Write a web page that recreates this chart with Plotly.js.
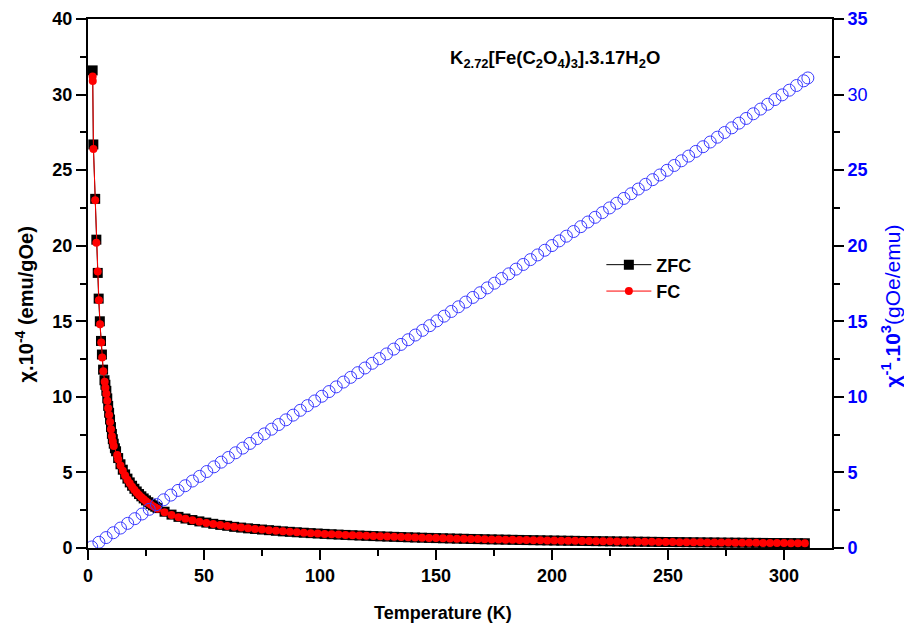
<!DOCTYPE html>
<html><head><meta charset="utf-8">
<script src="https://cdn.plot.ly/plotly-3.0.1.min.js"></script>
<style>html,body{margin:0;padding:0;background:#fff}#chart{width:904px;height:625px}</style>
</head><body><div id="chart"></div>
<script>
// Low-temperature ZFC data (T in K, chi x 1e-4 emu/gOe)
const tempZFCLow = [2.0, 2.3, 3.1, 3.6, 4.2, 4.6, 5.1, 5.6, 6.0, 6.5, 7.1, 7.5, 7.9, 8.3, 8.7, 9.1, 9.5, 9.9, 10.3, 10.7, 11.1, 11.6, 12.1,
  13, 14, 15, 16, 17, 18, 19, 20, 21, 22, 23, 24, 25, 26, 27, 28, 29, 30, 33, 36, 39, 42, 45, 48, 51, 54, 57, 60];
const chiZFCLow = [31.6, 26.7, 23.1, 20.4, 18.2, 16.5, 15.0, 13.7, 12.8, 11.8, 11.1, 10.8, 10.4, 9.9, 9.4, 8.95, 8.5, 8.0, 7.55, 7.2, 6.9, 6.6, 6.4,
  5.95, 5.54, 5.18, 4.87, 4.59, 4.34, 4.12, 3.92, 3.74, 3.57, 3.42, 3.28, 3.15, 3.03, 2.92, 2.82, 2.73, 2.64, 2.40, 2.21, 2.06, 1.95, 1.85, 1.76, 1.68, 1.60, 1.53, 1.47];
// Low-temperature FC data
const tempFCLow = [2.0, 2.05, 2.35, 3.1, 3.6, 4.2, 4.7, 5.2, 5.7, 6.1, 6.6, 7.2, 7.5, 7.9, 8.3, 8.7, 9.1, 9.5, 9.9, 10.3, 10.7, 11.1, 12.6,
  13, 14, 15, 16, 17, 18, 19, 20, 21, 22, 23, 24, 25, 26, 27, 28, 29, 30, 33, 36, 39, 42, 45, 48, 51, 54, 57, 60];
const chiFCLow = [31.2, 30.9, 26.4, 23.0, 20.2, 18.3, 16.4, 14.8, 13.6, 12.6, 11.7, 11.0, 10.6, 10.2, 9.75, 9.25, 8.8, 8.34, 7.85, 7.4, 7.05, 6.75, 6.15,
  5.87, 5.46, 5.11, 4.80, 4.52, 4.28, 4.06, 3.86, 3.68, 3.51, 3.36, 3.23, 3.10, 2.98, 2.87, 2.77, 2.68, 2.59, 2.36, 2.18, 2.03, 1.93, 1.83, 1.74, 1.66, 1.59, 1.52, 1.46];
// High-temperature region where ZFC and FC coincide
const tempHigh = [63, 66, 69, 72, 75, 78, 81, 84, 87, 90, 93, 96, 99, 102, 105, 108, 111, 114, 117, 120, 123, 126, 129, 132, 135, 138, 141, 144, 147, 150,
  153, 156, 159, 162, 165, 168, 171, 174, 177, 180, 183, 186, 189, 192, 195, 198, 201, 204, 207, 210, 213, 216, 219, 222, 225, 228, 231, 234, 237, 240,
  243, 246, 249, 252, 255, 258, 261, 264, 267, 270, 273, 276, 279, 282, 285, 288, 291, 294, 297, 300, 303, 306, 309];
const chiHigh = [1.40, 1.35, 1.30, 1.26, 1.22, 1.18, 1.14, 1.10, 1.07, 1.04, 1.01, 0.984, 0.958, 0.933, 0.909, 0.887, 0.865, 0.845, 0.825, 0.806, 0.788, 0.771, 0.754, 0.739, 0.723, 0.709, 0.695, 0.681, 0.668, 0.656,
  0.643, 0.632, 0.620, 0.610, 0.599, 0.589, 0.579, 0.569, 0.560, 0.551, 0.542, 0.533, 0.525, 0.517, 0.509, 0.501, 0.494, 0.487, 0.480, 0.473, 0.466, 0.460, 0.453, 0.447, 0.441, 0.435, 0.429, 0.424, 0.418, 0.413,
  0.408, 0.402, 0.397, 0.392, 0.388, 0.383, 0.378, 0.374, 0.369, 0.365, 0.360, 0.356, 0.352, 0.348, 0.344, 0.340, 0.336, 0.333, 0.329, 0.325, 0.322, 0.318, 0.315];
// Inverse susceptibility (x 1e3 gOe/emu), right axis
const tempInv = [1.6, 4.7, 7.8, 10.9, 14.0, 17.1, 20.2, 23.3, 26.4, 29.5, 32.6, 35.7, 38.8, 41.9, 45.0, 48.1, 51.2, 54.3, 57.4, 60.5, 63.6, 66.7, 69.8, 72.9, 76.0,
  79.1, 82.2, 85.3, 88.4, 91.5, 94.6, 97.7, 100.8, 103.9, 107.0, 110.1, 113.2, 116.3, 119.4, 122.5, 125.6, 128.7, 131.8, 134.9, 138.0, 141.1, 144.2, 147.3, 150.4,
  153.5, 156.6, 159.7, 162.8, 165.9, 169.0, 172.1, 175.2, 178.3, 181.4, 184.5, 187.6, 190.7, 193.8, 196.9, 200.0, 203.1, 206.2, 209.3, 212.4, 215.5, 218.6, 221.7,
  224.8, 227.9, 231.0, 234.1, 237.2, 240.3, 243.4, 246.5, 249.6, 252.7, 255.8, 258.9, 262.0, 265.1, 268.2, 271.3, 274.4, 277.5, 280.6, 283.7, 286.8, 289.9, 293.0,
  296.1, 299.2, 302.3, 305.4, 308.5, 310.3];
const chiInv = [0.07, 0.38, 0.69, 1.01, 1.32, 1.63, 1.94, 2.25, 2.56, 2.87, 3.19, 3.50, 3.81, 4.12, 4.43, 4.74, 5.06, 5.37, 5.68, 5.99, 6.30, 6.61, 6.92, 7.24, 7.55,
  7.86, 8.17, 8.48, 8.79, 9.11, 9.42, 9.73, 10.04, 10.35, 10.66, 10.98, 11.29, 11.60, 11.91, 12.22, 12.53, 12.84, 13.16, 13.47, 13.78, 14.09, 14.40, 14.71, 15.03,
  15.34, 15.65, 15.96, 16.27, 16.58, 16.89, 17.21, 17.52, 17.83, 18.14, 18.45, 18.76, 19.08, 19.39, 19.70, 20.01, 20.32, 20.63, 20.94, 21.26, 21.57, 21.88, 22.19,
  22.50, 22.81, 23.13, 23.44, 23.75, 24.06, 24.37, 24.68, 24.99, 25.31, 25.62, 25.93, 26.24, 26.55, 26.86, 27.18, 27.49, 27.80, 28.11, 28.42, 28.73, 29.04, 29.36,
  29.67, 29.98, 30.29, 30.60, 30.91, 31.10];

// Tick labels
const xTicks = [0, 50, 100, 150, 200, 250, 300];
const xMinor = [25, 75, 125, 175, 225, 275];
const yTicks = [0, 5, 10, 15, 20, 25, 30, 35];
const yTickText = ['0', '5', '10', '15', '20', '25', '30', '40'];
const yMinor = [2.5, 7.5, 12.5, 17.5, 22.5, 27.5, 32.5];
const y2TickText = ['<b>0</b>', '<b>5</b>', '<b>10</b>', '<b>15</b>', '<b>20</b>', '<b>25</b>', '30', '<b>35</b>'];

const F = '"Liberation Sans", Arial, sans-serif';
const BLUE = '#0000ff';

const traces = [
  { x: tempZFCLow.concat(tempHigh), y: chiZFCLow.concat(chiHigh), name: 'ZFC', type: 'scatter', mode: 'lines+markers',
    line: { color: '#000', width: 1 }, marker: { symbol: 'square', size: 10, color: '#000' } },
  { x: tempFCLow.concat(tempHigh), y: chiFCLow.concat(chiHigh), name: 'FC', type: 'scatter', mode: 'lines+markers',
    line: { color: '#ff0000', width: 1 }, marker: { symbol: 'circle', size: 8, color: '#ff0000' } },
  { x: tempInv, y: chiInv, name: 'inv', yaxis: 'y2', type: 'scatter', mode: 'markers', showlegend: false,
    marker: { symbol: 'circle-open', size: 12, color: '#3b3bff', line: { width: 1, color: '#3b3bff' } } }
];

const axisCommon = {
  ticks: 'outside', ticklen: 10, tickwidth: 2, tickcolor: '#000',
  showline: true, linewidth: 2, linecolor: '#000', showgrid: false, zeroline: false
};

const layout = {
  width: 904, height: 625,
  margin: { l: 88, r: 72, t: 19, b: 77, pad: 0 },
  paper_bgcolor: '#fff', plot_bgcolor: '#fff',
  font: { family: F, size: 18, color: '#000' },
  showlegend: true,
  legend: { x: 0.69, y: 0.57, xanchor: 'left', yanchor: 'top', bgcolor: 'rgba(0,0,0,0)',
    font: { family: F, size: 18, weight: 'bold', color: '#000' }, itemwidth: 45 },
  xaxis: Object.assign({}, axisCommon, {
    range: [0, 320.7], tickmode: 'array', tickvals: xTicks, mirror: true,
    tickfont: { family: F, size: 18, weight: 'bold', color: '#000' },
    minor: { tickmode: 'array', tickvals: xMinor, ticks: 'outside', ticklen: 6, tickwidth: 2, tickcolor: '#000', showgrid: false }
  }),
  yaxis: Object.assign({}, axisCommon, {
    range: [0, 35], tickmode: 'array', tickvals: yTicks, ticktext: yTickText,
    tickfont: { family: F, size: 18, weight: 'bold', color: '#000' },
    minor: { tickmode: 'array', tickvals: yMinor, ticks: 'outside', ticklen: 6, tickwidth: 2, tickcolor: '#000', showgrid: false }
  }),
  yaxis2: Object.assign({}, axisCommon, {
    overlaying: 'y', side: 'right', anchor: 'x',
    range: [0, 35], tickmode: 'array', tickvals: yTicks, ticktext: y2TickText,
    tickfont: { family: F, size: 18, weight: 'normal', color: BLUE },
    minor: { tickmode: 'array', tickvals: yMinor, ticks: 'outside', ticklen: 6, tickwidth: 2, tickcolor: '#000', showgrid: false }
  }),
  annotations: [
    { text: '<b>K<sub>2.72</sub>[Fe(C<sub>2</sub>O<sub>4</sub>)<sub>3</sub>].3.17H<sub>2</sub>O</b>', xref: 'paper', yref: 'paper',
      x: 0.628, y: 0.924, xanchor: 'center', yanchor: 'middle', showarrow: false, font: { family: F, size: 18.5, color: '#000' } },
    { text: '<b>Temperature (K)</b>', xref: 'paper', yref: 'paper', x: 0.477, y: -0.123, xanchor: 'center', yanchor: 'middle',
      showarrow: false, font: { family: F, size: 18, color: '#000' } },
    { text: '<b>χ.10<sup>-4</sup> (emu/gOe)</b>', xref: 'paper', yref: 'paper', x: -0.085, y: 0.46, xanchor: 'center', yanchor: 'middle',
      textangle: -90, showarrow: false, font: { family: F, size: 20, color: '#000' } },
    { text: '<b>χ<sup>-1</sup>.10<sup>3</sup></b>(gOe/emu)', xref: 'paper', yref: 'paper', x: 1.079, y: 0.458, xanchor: 'center', yanchor: 'middle',
      textangle: -90, showarrow: false, font: { family: F, size: 21, color: BLUE } }
  ]
};

Plotly.newPlot('chart', traces, layout, { displayModeBar: false, staticPlot: true });
</script>
</body></html>
